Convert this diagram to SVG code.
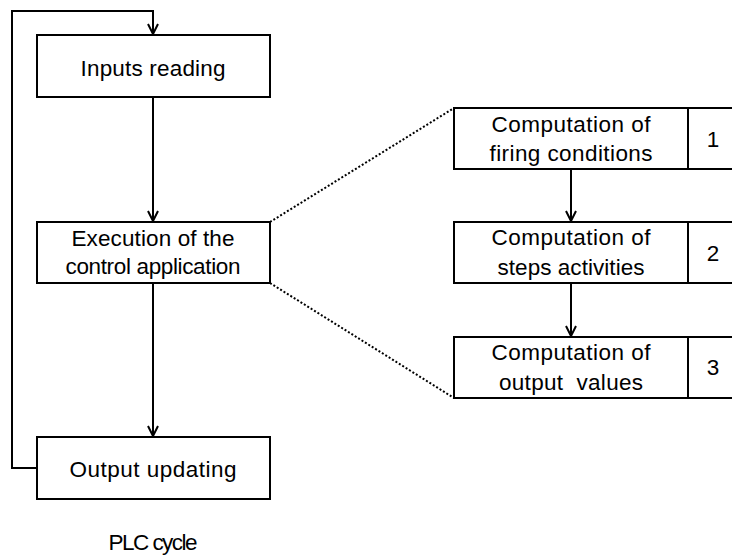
<svg xmlns="http://www.w3.org/2000/svg" width="732" height="559" viewBox="0 0 732 559">
<style>
.box{fill:#fff;stroke:#000;stroke-width:2}
.t{font-family:"Liberation Sans",Arial,sans-serif;font-size:22.5px;fill:#000;text-anchor:middle}
.c{fill:none;stroke:#000;stroke-width:2}
.d{fill:none;stroke:#000;stroke-width:2;stroke-dasharray:2 2}
</style>
<defs>
<marker id="ah" viewBox="0 0 12 12" refX="11" refY="6" markerWidth="12" markerHeight="12" markerUnits="userSpaceOnUse" orient="auto">
<path d="M1,1 L11,6 L1,11" fill="none" stroke="#000" stroke-width="2"/>
</marker>
</defs>
<rect width="732" height="559" fill="#fff"/>
<g id="connectors">
<path class="c" d="M37,468 H12 V11 H153 V34" marker-end="url(#ah)"/>
<path class="c" d="M153,97 V221" marker-end="url(#ah)"/>
<path class="c" d="M153,283 V436" marker-end="url(#ah)"/>
<path class="c" d="M571,169 V221" marker-end="url(#ah)"/>
<path class="c" d="M571,283 V336" marker-end="url(#ah)"/>
<path class="d" d="M270,222 L454,108"/>
<path class="d" d="M270,283 L454,398"/>
</g>
<g id="inputs">
<rect class="box" x="37" y="35" width="233" height="62"/>
<text class="t" x="153" y="76" textLength="145">Inputs reading</text>
</g>
<g id="execution">
<rect class="box" x="37" y="222" width="233" height="61"/>
<text class="t" x="153" y="246" textLength="163">Execution of the</text>
<text class="t" x="153" y="274" textLength="175">control application</text>
</g>
<g id="output">
<rect class="box" x="37" y="437" width="233" height="62"/>
<text class="t" x="153" y="477" textLength="167">Output updating</text>
</g>
<g id="plc-label">
<text class="t" x="153" y="550" textLength="89">PLC cycle</text>
</g>
<g id="step1">
<rect class="box" x="454" y="108" width="234" height="61"/>
<rect class="box" x="688" y="108" width="50" height="61"/>
<text class="t" x="571" y="132" textLength="159">Computation of</text>
<text class="t" x="571" y="161" textLength="163">firing conditions</text>
<text class="t" x="713" y="147">1</text>
</g>
<g id="step2">
<rect class="box" x="454" y="222" width="234" height="61"/>
<rect class="box" x="688" y="222" width="50" height="61"/>
<text class="t" x="571" y="245" textLength="159">Computation of</text>
<text class="t" x="571" y="275" textLength="147">steps activities</text>
<text class="t" x="713" y="261">2</text>
</g>
<g id="step3">
<rect class="box" x="454" y="337" width="234" height="61"/>
<rect class="box" x="688" y="337" width="50" height="61"/>
<text class="t" x="571" y="360" textLength="159">Computation of</text>
<text class="t" x="571" y="390" textLength="144" xml:space="preserve">output  values</text>
<text class="t" x="713" y="375">3</text>
</g>
</svg>
